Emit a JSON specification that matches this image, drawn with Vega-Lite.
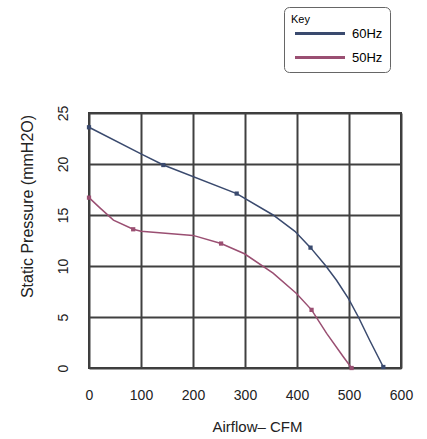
{
  "$schema": "https://vega.github.io/schema/vega-lite/v6.json",
  "autosize": "none",
  "width": 312,
  "height": 255,
  "padding": {"left": 89, "top": 113, "right": 26, "bottom": 71},
  "background": "white",
  "config": {
    "font": "Liberation Sans",
    "view": {"stroke": "#3a3a3a", "strokeWidth": 2},
    "axis": {"gridColor": "#404040", "gridWidth": 2, "gridOpacity": 1, "domain": false, "ticks": false, "labelColor": "#222", "titleColor": "#222", "labelFont": "Liberation Sans", "titleFont": "Liberation Sans", "titleFontWeight": "normal"}
  },
  "datasets": {
    "curve": [
      {"series": "60Hz", "cfm": 0, "pressure": 23.6},
      {"series": "60Hz", "cfm": 100, "pressure": 21.0},
      {"series": "60Hz", "cfm": 143, "pressure": 19.9},
      {"series": "60Hz", "cfm": 284, "pressure": 17.1},
      {"series": "60Hz", "cfm": 354, "pressure": 15.0},
      {"series": "60Hz", "cfm": 396, "pressure": 13.4},
      {"series": "60Hz", "cfm": 426, "pressure": 11.8},
      {"series": "60Hz", "cfm": 454, "pressure": 10.1},
      {"series": "60Hz", "cfm": 476, "pressure": 8.6},
      {"series": "60Hz", "cfm": 499, "pressure": 6.8},
      {"series": "60Hz", "cfm": 518, "pressure": 5.0},
      {"series": "60Hz", "cfm": 540, "pressure": 2.7},
      {"series": "60Hz", "cfm": 566, "pressure": 0.1},
      {"series": "50Hz", "cfm": 0, "pressure": 16.7},
      {"series": "50Hz", "cfm": 21, "pressure": 15.7},
      {"series": "50Hz", "cfm": 47, "pressure": 14.5},
      {"series": "50Hz", "cfm": 85, "pressure": 13.6},
      {"series": "50Hz", "cfm": 100, "pressure": 13.4},
      {"series": "50Hz", "cfm": 200, "pressure": 13.0},
      {"series": "50Hz", "cfm": 254, "pressure": 12.2},
      {"series": "50Hz", "cfm": 299, "pressure": 11.2},
      {"series": "50Hz", "cfm": 354, "pressure": 9.3},
      {"series": "50Hz", "cfm": 399, "pressure": 7.3},
      {"series": "50Hz", "cfm": 428, "pressure": 5.7},
      {"series": "50Hz", "cfm": 457, "pressure": 3.4},
      {"series": "50Hz", "cfm": 489, "pressure": 1.1},
      {"series": "50Hz", "cfm": 505, "pressure": 0}
    ],
    "pts": [
      {"series": "60Hz", "cfm": 0, "pressure": 23.6},
      {"series": "60Hz", "cfm": 143, "pressure": 19.9},
      {"series": "60Hz", "cfm": 284, "pressure": 17.1},
      {"series": "60Hz", "cfm": 426, "pressure": 11.8},
      {"series": "60Hz", "cfm": 566, "pressure": 0.1},
      {"series": "50Hz", "cfm": 0, "pressure": 16.7},
      {"series": "50Hz", "cfm": 85, "pressure": 13.6},
      {"series": "50Hz", "cfm": 254, "pressure": 12.2},
      {"series": "50Hz", "cfm": 428, "pressure": 5.7},
      {"series": "50Hz", "cfm": 505, "pressure": 0}
    ]
  },
  "encoding": {
    "x": {"field": "cfm", "type": "quantitative", "scale": {"domain": [0, 600], "nice": false},
      "axis": {"values": [0, 100, 200, 300, 400, 500, 600], "title": "Airflow\u2013 CFM", "labelFontSize": 14, "labelPadding": 20, "titleFontSize": 15, "titlePadding": 17, "titleX": 168, "labelFlush": false}},
    "y": {"field": "pressure", "type": "quantitative", "scale": {"domain": [0, 25], "nice": false},
      "axis": {"values": [0, 5, 10, 15, 20, 25], "title": "Static Pressure (mmH2O)", "labelAngle": -90, "labelAlign": "center", "labelBaseline": "middle", "labelPadding": 26, "labelFontSize": 14, "labelFlush": false, "titleFontSize": 16, "titleX": -62, "titleY": 93, "titleBaseline": "middle", "titleAlign": "center", "titleAngle": -90}},
    "color": {"field": "series", "type": "nominal", "scale": {"domain": ["60Hz", "50Hz"], "range": ["#3a4a6e", "#9a4f72"]},
      "legend": {"title": "Key", "orient": "none", "legendX": 195, "legendY": -106, "symbolType": "M-1,0H19", "symbolSize": 25, "symbolStrokeWidth": 3, "symbolFillColor": "transparent", "labelFontSize": 13, "titleFontSize": 11, "titleFontWeight": "normal", "strokeColor": "#666", "fillColor": "white", "cornerRadius": 5, "padding": 7, "labelOffset": 48, "rowPadding": 10, "titlePadding": 2}}
  },
  "layer": [
    {"data": {"name": "curve"}, "mark": {"type": "line", "strokeWidth": 1.5}},
    {"data": {"name": "pts"}, "mark": {"type": "point", "filled": true, "shape": "square", "size": 18, "opacity": 1}}
  ]
}
